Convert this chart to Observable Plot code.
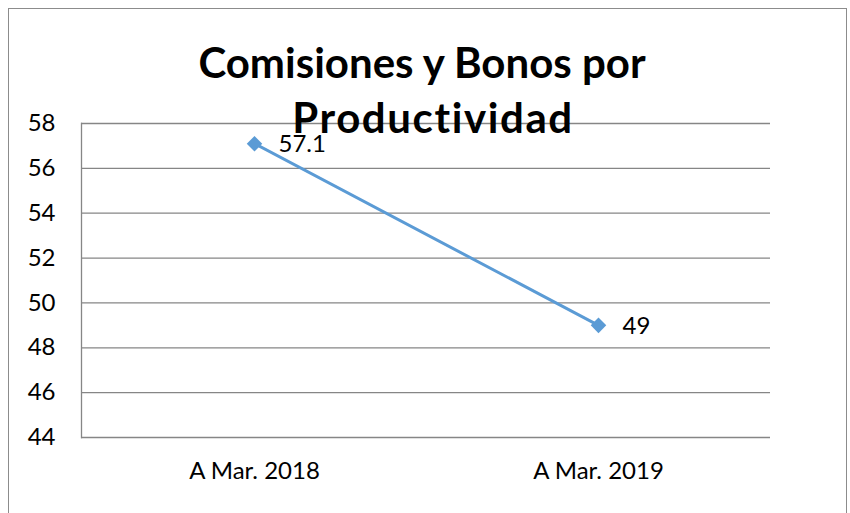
<!DOCTYPE html>
<html><head><meta charset="utf-8">
<script src="https://cdn.jsdelivr.net/npm/d3@7"></script>
<script src="https://cdn.jsdelivr.net/npm/@observablehq/plot@0.6"></script>
<style>
html,body{margin:0;padding:0;background:#fff;}
#wrap{position:relative;width:850px;height:513px;overflow:hidden;font-family:Lato,"Open Sans",sans-serif;}
#border{position:absolute;left:8px;top:8px;width:839px;height:520px;border:1px solid #8c8c8c;box-sizing:border-box;}
#title{position:absolute;left:0;width:844px;top:35px;text-align:center;font-weight:bold;font-size:42px;line-height:55px;color:#000;}
#title .l2{letter-spacing:1.6px;margin-left:22px;}
#chart{position:absolute;left:0;top:0;}
</style></head>
<body><div id="wrap"><div id="border"></div><div id="chart"></div><div id="title">Comisiones y Bonos por<br><span class="l2">Productividad</span></div></div>
<script>
const categories = ["A Mar. 2018", "A Mar. 2019"];
const values = [57.1, 49];
const yTicks = [44, 46, 48, 50, 52, 54, 56, 58];
const labels = ["57.1", "49"];
const data = categories.map((c, i) => ({cat: c, v: values[i], label: labels[i]}));

const chart = Plot.plot({
  width: 850, height: 513,
  marginLeft: 81, marginRight: 80, marginTop: 123, marginBottom: 76,
  style: {fontFamily: "Lato, 'Open Sans', sans-serif", fontSize: "24px", color: "#000", background: "transparent"},
  x: {type: "band", domain: categories, padding: 0, label: null},
  y: {domain: [44, 58], label: null},
  marks: [
    Plot.ruleY(yTicks, {stroke: "#868686", strokeWidth: 1.3}),
    Plot.frame({anchor: "left", stroke: "#868686", strokeWidth: 1.3}),
    Plot.axisY({ticks: yTicks, tickSize: 0, tickPadding: 26, fontSize: 24, label: null}),
    Plot.axisX({tickSize: 0, tickPadding: 24, fontSize: 24, label: null}),
    Plot.line(data, {x: "cat", y: "v", stroke: "#5B9BD5", strokeWidth: 3}),
    Plot.dot(data, {x: "cat", y: "v", symbol: "diamond2", r: 7, fill: "#5B9BD5", stroke: "none"}),
    Plot.text(data, {x: "cat", y: "v", text: "label", textAnchor: "start", dx: 24, dy: 1, fontSize: 24, fill: "#000"})
  ]
});
document.getElementById("chart").appendChild(chart);
</script></body></html>
